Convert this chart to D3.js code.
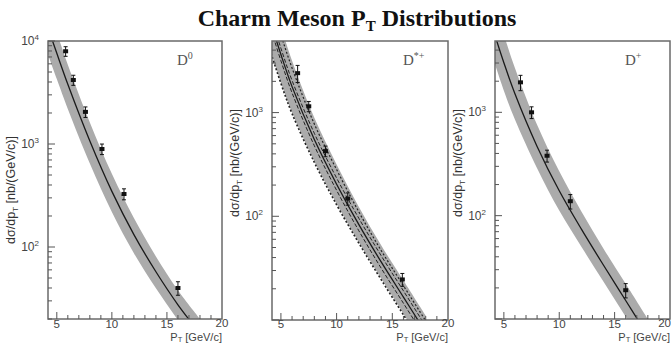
<!DOCTYPE html>
<html>
<head>
<meta charset="utf-8">
<script src="https://cdn.jsdelivr.net/npm/d3@7/dist/d3.min.js"></script>
<style>
  body { margin: 0; background: #fff; }
  svg text { font-family: "Liberation Sans", Arial, sans-serif; }
</style>
</head>
<body>
<div id="chart"></div>
<script>
/** theory curves, sampled along pT **/
var ptGrid = [4, 5, 6, 8, 10, 12, 14, 16, 18];

var d0Central = [15500, 7600, 3800, 1070, 347, 132, 57.5, 27.5, 14.5];
var d0Low     = [8510, 4270, 2190, 646, 219, 87, 39.8, 19.5, 10.2];
var d0High    = [24500, 12000, 5890, 1620, 513, 191, 81, 38, 20];

var dstCentral = [7940, 3630, 1780, 550, 204, 83, 36.3, 16.6, 7.6];
var dstLow     = [4170, 1950, 1000, 339, 132, 56, 25.1, 11.5, 5.2];
var dstHigh    = [15100, 6760, 3160, 891, 316, 123, 52.5, 24, 11];
var dstDashLo  = [6920, 3160, 1550, 479, 178, 72.4, 31.6, 14.5, 6.6];
var dstDashHi  = [9120, 4170, 2040, 631, 234, 95.5, 41.7, 19.1, 8.7];
var dstDotLo   = [4070, 1910, 977, 331, 129, 55, 24.5, 11.2, 5.1];
var dstDotHi   = [12600, 5620, 2690, 776, 282, 110, 46.8, 21.4, 9.8];

var dpCentral = [6460, 3020, 1510, 468, 174, 74, 33.1, 15.1, 6.9];
var dpLow     = [3390, 1620, 851, 288, 112, 50, 22.9, 10.5, 4.8];
var dpHigh    = [12300, 5620, 2690, 759, 269, 110, 47.9, 21.9, 10];

/** measured points **/
var d0Pt  = [5.8, 6.5, 7.6, 9.1, 11.1, 16.0];
var d0Val = [7950, 4180, 2050, 894, 327, 40];
var d0Err = [850, 470, 240, 105, 40, 6];

var dstPt  = [6.5, 7.5, 9.0, 11.0, 15.9];
var dstVal = [2400, 1150, 425, 148, 24.6];
var dstErr = [450, 130, 50, 20, 3.5];

var dpPt  = [6.5, 7.5, 8.9, 11.0, 16.0];
var dpVal = [1950, 1000, 380, 138, 19];
var dpErr = [330, 130, 50, 22, 3];

/** axis ticks **/
var xTickLabels = [5, 10, 15, 20];
var xDomain = [4.2, 20];

var width = 671, height = 345;

var svg = d3.select("#chart").append("svg")
    .attr("width", width)
    .attr("height", height);

function zip(a, b) {
    return a.map(function(d, i) { return [d, b[i]]; });
}

var panels = [
    { left: 48, right: 222, top: 41, bottom: 319, yDomain: [20, 1e4], ylabY: 190,
      name: "D", sup: "0", central: d0Central, low: d0Low, high: d0High,
      pt: d0Pt, val: d0Val, err: d0Err, extra: [] },
    { left: 272, right: 448, top: 41, bottom: 320, yDomain: [10, 4900], ylabY: 163,
      name: "D", sup: "*+", central: dstCentral, low: dstLow, high: dstHigh,
      pt: dstPt, val: dstVal, err: dstErr,
      extra: [
          { data: dstDashLo, dash: "4,2", w: 1 },
          { data: dstDashHi, dash: "4,2", w: 1 },
          { data: dstDotLo, dash: "2,2", w: 1.6 },
          { data: dstDotHi, dash: "2,2", w: 1.2 }
      ] },
    { left: 495, right: 670, top: 41, bottom: 319, yDomain: [10, 4900], ylabY: 163,
      name: "D", sup: "+", central: dpCentral, low: dpLow, high: dpHigh,
      pt: dpPt, val: dpVal, err: dpErr, extra: [] }
];

// title
var title = svg.append("text")
    .attr("x", 357)
    .attr("y", 26)
    .attr("text-anchor", "middle")
    .style("font-family", "'Liberation Serif', 'Times New Roman', serif")
    .style("font-weight", "bold")
    .style("font-size", "24px")
    .attr("fill", "#111");
title.append("tspan").text("Charm Meson P");
title.append("tspan").attr("dy", 5).style("font-size", "15px").text("T");
title.append("tspan").attr("dy", -5).text(" Distributions");

var curve = d3.curveCatmullRom.alpha(0.5);

panels.forEach(function(p, idx) {
    var x = d3.scaleLinear().domain(xDomain).range([p.left, p.right]);
    var y = d3.scaleLog().domain(p.yDomain).range([p.bottom, p.top]);

    var g = svg.append("g").attr("class", "panel");

    var clipId = "clip" + idx;
    svg.append("clipPath").attr("id", clipId)
        .append("rect")
        .attr("x", p.left).attr("y", p.top)
        .attr("width", p.right - p.left)
        .attr("height", p.bottom - p.top);

    var plot = g.append("g").attr("clip-path", "url(#" + clipId + ")");

    // uncertainty band
    var area = d3.area()
        .x(function(d) { return x(d[0]); })
        .y0(function(d) { return y(d[1]); })
        .y1(function(d) { return y(d[2]); })
        .curve(curve);

    var bandData = ptGrid.map(function(t, i) { return [t, p.low[i], p.high[i]]; });
    plot.append("path")
        .datum(bandData)
        .attr("d", area)
        .attr("fill", "#ababab");

    var line = d3.line()
        .x(function(d) { return x(d[0]); })
        .y(function(d) { return y(d[1]); })
        .curve(curve);

    p.extra.forEach(function(e) {
        plot.append("path")
            .datum(zip(ptGrid, e.data))
            .attr("d", line)
            .attr("fill", "none")
            .attr("stroke", "#222")
            .attr("stroke-width", e.w)
            .attr("stroke-dasharray", e.dash);
    });

    plot.append("path")
        .datum(zip(ptGrid, p.central))
        .attr("d", line)
        .attr("fill", "none")
        .attr("stroke", "#1a1a1a")
        .attr("stroke-width", 1.3);

    // data points with error bars
    var pts = p.pt.map(function(t, i) { return { x: t, v: p.val[i], e: p.err[i] }; });
    var pg = plot.selectAll(".pt").data(pts).enter().append("g").attr("class", "pt");
    pg.append("line")
        .attr("x1", function(d) { return x(d.x); })
        .attr("x2", function(d) { return x(d.x); })
        .attr("y1", function(d) { return y(d.v - d.e); })
        .attr("y2", function(d) { return y(d.v + d.e); })
        .attr("stroke", "#111").attr("stroke-width", 1);
    [-1, 1].forEach(function(s) {
        pg.append("line")
            .attr("x1", function(d) { return x(d.x) - 2; })
            .attr("x2", function(d) { return x(d.x) + 2; })
            .attr("y1", function(d) { return y(d.v + s * d.e); })
            .attr("y2", function(d) { return y(d.v + s * d.e); })
            .attr("stroke", "#111").attr("stroke-width", 1);
    });
    pg.append("rect")
        .attr("x", function(d) { return x(d.x) - 2.5; })
        .attr("y", function(d) { return y(d.v) - 2; })
        .attr("width", 5).attr("height", 4)
        .attr("fill", "#111");

    // frame
    g.append("rect")
        .attr("x", p.left).attr("y", p.top)
        .attr("width", p.right - p.left)
        .attr("height", p.bottom - p.top)
        .attr("fill", "none")
        .attr("stroke", "#6a6a6a")
        .attr("stroke-width", 1.5);

    // x ticks (inward)
    var xMinor = d3.range(5, 20, 1);
    g.selectAll(".xt").data(xMinor).enter().append("line")
        .attr("x1", function(d) { return x(d); })
        .attr("x2", function(d) { return x(d); })
        .attr("y1", p.bottom)
        .attr("y2", function(d) { return p.bottom - (d % 5 === 0 ? 7 : 4); })
        .attr("stroke", "#555");

    g.selectAll(".xl").data(xTickLabels).enter().append("text")
        .attr("x", function(d) { return (d === 20 && p.right > 660) ? 671 : x(d); })
        .attr("y", function(d) { return d === 20 ? 327 : 328; })
        .attr("text-anchor", function(d) { return (d === 20 && p.right > 660) ? "end" : "middle"; })
        .style("font-size", "11.5px")
        .attr("fill", "#444")
        .text(function(d) { return d; });

    // y ticks (inward, log)
    var yTicks = y.ticks().filter(function(d) { return d >= p.yDomain[0] && d <= p.yDomain[1]; });
    g.selectAll(".yt").data(yTicks).enter().append("line")
        .attr("x1", p.left)
        .attr("x2", function(d) {
            var m = d / Math.pow(10, Math.floor(Math.log10(d) + 1e-9));
            return p.left + (Math.abs(m - 1) < 1e-6 ? 7 : 4);
        })
        .attr("y1", function(d) { return y(d); })
        .attr("y2", function(d) { return y(d); })
        .attr("stroke", "#555");

    var decades = yTicks.filter(function(d) {
        var m = d / Math.pow(10, Math.floor(Math.log10(d) + 1e-9));
        return Math.abs(m - 1) < 1e-6 && d > p.yDomain[0] * 1.01;
    });
    var yl = g.selectAll(".yl").data(decades).enter().append("text")
        .attr("x", p.left - 9)
        .attr("y", function(d) { return y(d) + 4; })
        .attr("text-anchor", "end")
        .style("font-size", "12px")
        .attr("fill", "#444");
    yl.append("tspan").text("10");
    yl.append("tspan").attr("dy", -5).style("font-size", "8px")
        .text(function(d) { return Math.round(Math.log10(d)); });

    // axis titles
    var ylab = g.append("text")
        .attr("transform", "translate(" + (p.left - 33) + "," + p.ylabY + ") rotate(-90)")
        .attr("text-anchor", "middle")
        .style("font-size", "12.5px")
        .attr("fill", "#333");
    ylab.append("tspan").text("d\u03c3/dp");
    ylab.append("tspan").attr("dy", 3).style("font-size", "8px").text("T");
    ylab.append("tspan").attr("dy", -3).text("  [nb/(GeV/c)]");

    var xlab = g.append("text")
        .attr("x", p.right)
        .attr("y", 340.5)
        .attr("text-anchor", "end")
        .style("font-size", "11px")
        .attr("fill", "#444");
    xlab.append("tspan").text("P");
    xlab.append("tspan").attr("dy", 1.5).style("font-size", "7.5px").text("T");
    xlab.append("tspan").attr("dy", -1.5).text("  [GeV/c]");

    // panel label
    var plab = g.append("text")
        .attr("x", p.right - 45)
        .attr("y", 65)
        .style("font-family", "'Liberation Serif', 'Times New Roman', serif")
        .style("font-size", "15px")
        .attr("fill", "#555");
    plab.append("tspan").text(p.name);
    plab.append("tspan").attr("dy", -6).style("font-size", "10px").text(p.sup);
});
</script>
</body>
</html>
